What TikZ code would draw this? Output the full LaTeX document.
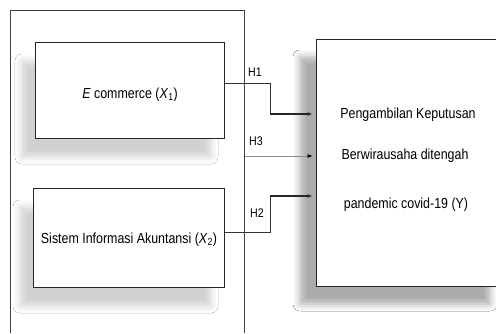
\documentclass[tikz,border=0pt]{standalone}
\usepackage{fontspec}
\setmainfont{Liberation Sans}[FakeStretch=0.85]
\usetikzlibrary{shadows.blur,arrows.meta}
\begin{document}
\begin{tikzpicture}[x=1pt,y=-1pt,
  frame/.style={draw=black!75,line width=0.7pt},
  box/.style={draw=black!85,line width=1pt,fill=white,
    blur shadow={shadow xshift=-13pt,shadow yshift=-19pt,shadow blur radius=7pt,shadow opacity=18}},
  txt/.style={font=\fontsize{14.6}{16}\selectfont,inner sep=0pt},
  hl/.style={font=\fontsize{12.5}{14}\selectfont,inner sep=0pt},
  conn/.style={draw=black!80,line width=0.7pt},
  arr/.style={draw=black!85,line width=1.3pt,-{Latex[length=5pt,width=4pt]}}]
\useasboundingbox (0,0) rectangle (496,333);
\fill[white] (0,0) rectangle (496,333);
% outer frame
\draw[frame] (10,333) -- (10,10) -- (244,10) -- (244,333);
% boxes
\node[box,minimum width=189pt,minimum height=96pt,inner sep=0pt] (x1) at (129.5,90) {};
\node[box,minimum width=191pt,minimum height=99pt,inner sep=0pt] (x2) at (128.5,237.5) {};
\node[box,minimum width=190pt,minimum height=247pt,inner sep=0pt,
  blur shadow={shadow xshift=-16pt,shadow yshift=-18pt,shadow blur radius=7pt,shadow opacity=18}] (y) at (411,162.5) {};
% texts
\node[txt] (tx1) at (130,95) {\textit{E} commerce (\textit{X}\textsubscript{1})};
\node[txt] (tx2) at (129,240) {Sistem Informasi Akuntansi (\textit{X}\textsubscript{2})};
\node[txt] (ty1) at (408,115) {Pengambilan Keputusan};
\node[txt] (ty2) at (405,156) {Berwirausaha ditengah};
\node[txt] (ty3) at (406,205) {pandemic covid-19 (Y)};
% connectors
\coordinate (k1) at (270,83);
\coordinate (k1b) at (270,114);
\draw[conn] (x1.east |- k1) -- (k1) -- (k1b);
\draw[arr] (k1b) -- ([xshift=-3pt]y.west |- k1b);
\coordinate (k2) at (270,232);
\coordinate (k2b) at (270,196);
\draw[conn] (x2.east |- k2) -- (k2) -- (k2b);
\draw[arr] (k2b) -- ([xshift=-3pt]y.west |- k2b);
\coordinate (k3) at (245,156);
\draw[draw=black!45,line width=0.6pt,-{Latex[length=5pt,width=4pt,black]}] (k3) -- ([xshift=-3pt]y.west |- k3);
% labels
\node[hl] (h1) at (255,72) {H1};
\node[hl] (h3) at (256,141) {H3};
\node[hl] (h2) at (257,213) {H2};
\end{tikzpicture}
\end{document}
